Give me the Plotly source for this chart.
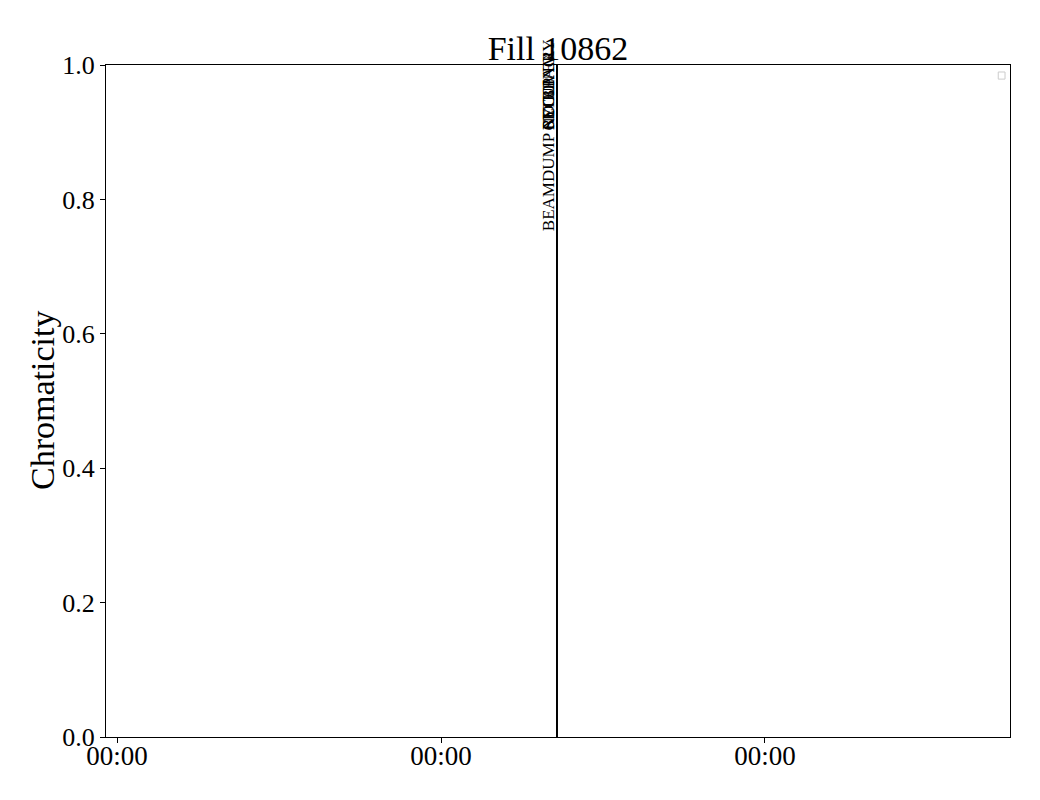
import plotly.graph_objects as go

# Beam mode change times and labels
mode_times = ["2025-05-11 08:34", "2025-05-11 08:35", "2025-05-11 08:35",
              "2025-05-11 08:36", "2025-05-11 08:36"]
mode_labels = ["BEAMDUMP", "RECOVERY", "CYCLING", "SETUP", "NO BEAM"]
label_y = [0.75, 0.9, 0.9, 0.9, 0.9]

x_range = ["2025-05-09 23:11", "2025-05-12 18:09"]
x_ticks = ["2025-05-10 00:00", "2025-05-11 00:00", "2025-05-12 00:00"]
x_tick_text = ["00:00", "00:00", "00:00"]
y_ticks = [0.0, 0.2, 0.4, 0.6, 0.8, 1.0]

FONT = "Liberation Serif, Times New Roman, serif"

fig = go.Figure()
for t in mode_times:
    fig.add_trace(go.Scatter(x=[t, t], y=[0, 1], mode="lines",
                             line=dict(color="black", width=1.2),
                             showlegend=False, hoverinfo="skip"))

for t, lab, yy in zip(mode_times, mode_labels, label_y):
    fig.add_annotation(x=t, y=yy, xref="x", yref="y", text=lab,
                       textangle=-90, showarrow=False,
                       xanchor="right", yanchor="bottom", xshift=3,
                       font=dict(family=FONT, size=17, color="black"))

# y axis label
fig.add_annotation(x=(42 - 106) / 904, y=0.5, xref="paper", yref="paper",
                   text="Chromaticity", textangle=-90, showarrow=False,
                   xanchor="center", yanchor="middle",
                   font=dict(family=FONT, size=34, color="black"))

# empty legend box
fig.add_shape(type="rect", xref="paper", yref="paper",
              x0=0.987, x1=0.9945, y0=0.979, y1=0.9896,
              line=dict(color="#cccccc", width=1), fillcolor="white")

fig.update_layout(
    width=1040, height=800,
    paper_bgcolor="white", plot_bgcolor="white",
    margin=dict(l=98, r=38, t=57, b=71),
    title=dict(text="Fill 10862", x=(98 + 1002) / 2 / 1040, xanchor="center",
               y=1 - 40 / 800, yanchor="middle",
               font=dict(family=FONT, size=34, color="black")),
    font=dict(family=FONT, color="black"),
    showlegend=False,
)
fig.update_xaxes(type="date", range=x_range, tickvals=x_ticks, ticktext=x_tick_text,
                 showgrid=False, zeroline=False, showline=True, linecolor="black",
                 linewidth=1, mirror=True, ticks="outside", ticklen=5, tickcolor="black",
                 ticklabelstandoff=-10, automargin=False,
                 tickfont=dict(family=FONT, size=27, color="black"))
fig.update_yaxes(range=[0, 1], tickvals=y_ticks, tickformat=".1f",
                 showgrid=False, zeroline=False, showline=True, linecolor="black",
                 linewidth=1, mirror=True, ticks="outside", ticklen=5, tickcolor="black",
                 automargin=False,
                 tickfont=dict(family=FONT, size=26, color="black"))

fig.write_html("out.html")
